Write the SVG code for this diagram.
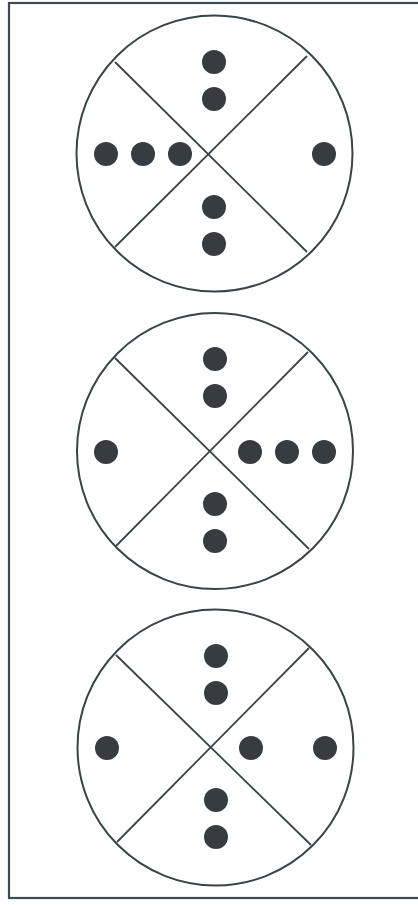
<svg xmlns="http://www.w3.org/2000/svg" width="418" height="905" viewBox="0 0 418 905">
<style>
.ring{fill:none;stroke:#3a4346;stroke-width:2}
.div{stroke:#3a4346;stroke-width:1.8}
.dot{fill:#363c40}
.frame{fill:none;stroke:#3d4a4e;stroke-width:2.2}
</style>
<rect width="418" height="905" fill="#ffffff"/>
<rect class="frame" x="9" y="3" width="420" height="895"/>
<g id="circle1">
<circle class="ring" cx="214.5" cy="153.5" r="138"/>
<line class="div" x1="115" y1="62" x2="307" y2="252"/>
<line class="div" x1="307" y1="56" x2="115" y2="247"/>
<circle class="dot" cx="214" cy="62" r="12"/>
<circle class="dot" cx="214" cy="99" r="12"/>
<circle class="dot" cx="106" cy="154" r="12"/>
<circle class="dot" cx="143" cy="154" r="12"/>
<circle class="dot" cx="180" cy="154" r="12"/>
<circle class="dot" cx="324" cy="154" r="12"/>
<circle class="dot" cx="214" cy="207" r="12"/>
<circle class="dot" cx="214" cy="244" r="12"/>
</g>
<g id="circle2">
<circle class="ring" cx="215" cy="451" r="138"/>
<line class="div" x1="115" y1="358" x2="309" y2="549"/>
<line class="div" x1="308" y1="352" x2="116" y2="546"/>
<circle class="dot" cx="215" cy="359" r="12"/>
<circle class="dot" cx="215" cy="396" r="12"/>
<circle class="dot" cx="106" cy="452" r="12"/>
<circle class="dot" cx="250" cy="452" r="12"/>
<circle class="dot" cx="287" cy="452" r="12"/>
<circle class="dot" cx="324" cy="452" r="12"/>
<circle class="dot" cx="215" cy="504" r="12"/>
<circle class="dot" cx="215" cy="541" r="12"/>
</g>
<g id="circle3">
<circle class="ring" cx="215.5" cy="747.5" r="138"/>
<line class="div" x1="116" y1="655" x2="311" y2="845"/>
<line class="div" x1="309" y1="648" x2="117" y2="842"/>
<circle class="dot" cx="216" cy="656" r="12"/>
<circle class="dot" cx="216" cy="693" r="12"/>
<circle class="dot" cx="107" cy="748" r="12"/>
<circle class="dot" cx="251" cy="748" r="12"/>
<circle class="dot" cx="325" cy="748" r="12"/>
<circle class="dot" cx="216" cy="800" r="12"/>
<circle class="dot" cx="216" cy="837" r="12"/>
</g>
</svg>
